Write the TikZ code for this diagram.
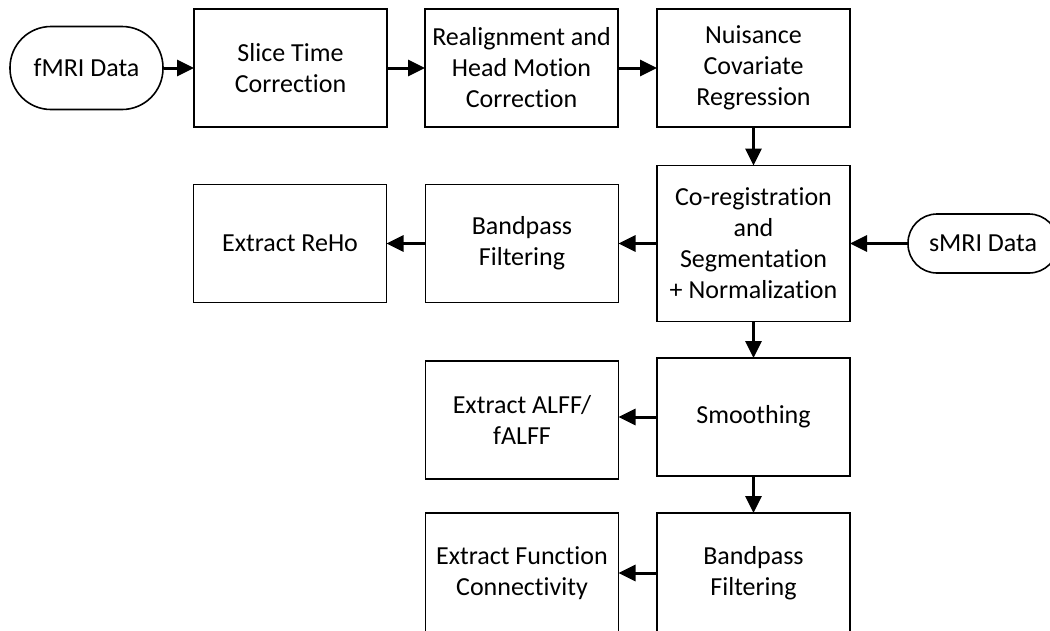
\documentclass[tikz,border=0pt]{standalone}
\usepackage{fontspec}
\setmainfont{Carlito}[Ligatures={NoCommon}]
\usetikzlibrary{arrows.meta}
\begin{document}
\begin{tikzpicture}[x=1pt,y=-1pt,
  procbox/.style={draw=black,line width=1.6pt,minimum width=193pt,minimum height=118pt,
    align=center,inner sep=2pt,font=\fontsize{26}{31}\selectfont,text=black},
  termbox/.style={draw=black,line width=1.6pt,align=center,inner sep=0pt,
    font=\fontsize{26}{31}\selectfont,text=black},
  flow/.style={line width=3pt,-{Triangle[length=17pt,width=16pt]},shorten >=-0.8pt}]
\clip (0,0) rectangle (1050,630);
\node[termbox,minimum width=153pt,minimum height=83pt,rounded corners=41pt] (fmri) at (86.5,68) {fMRI Data};
\node[procbox] (slice) at (290.5,68) {Slice Time\\Correction};
\node[procbox] (realign) at (521.5,68) {Realignment and\\Head Motion\\Correction};
\node[procbox] (nuis) at (753.5,68) {Nuisance\\Covariate\\Regression};
\node[procbox,minimum height=156pt] (coreg) at (753.5,243.5) {Co-registration\\and\\Segmentation\\+ Normalization};
\node[termbox,minimum width=150pt,minimum height=59pt,rounded corners=29pt] (smri) at (983,243.5) {sMRI Data};
\node[procbox] (bp1) at (522,243.5) {Bandpass\\Filtering};
\node[procbox] (reho) at (290,243.5) {Extract ReHo};
\node[procbox] (smooth) at (753.5,417) {Smoothing};
\node[procbox] (alff) at (522,420) {Extract ALFF/\\fALFF};
\node[procbox,minimum height=120pt] (bp2) at (753.5,573) {Bandpass\\Filtering};
\node[procbox,minimum height=120pt] (fc) at (522,573) {Extract Function\\Connectivity};
\draw[flow] (fmri) -- (slice);
\draw[flow] (slice) -- (realign);
\draw[flow] (realign) -- (nuis);
\draw[flow] (nuis) -- (coreg);
\draw[flow] (smri) -- (coreg);
\draw[flow] (coreg) -- (bp1);
\draw[flow] (bp1) -- (reho);
\draw[flow] (coreg) -- (smooth);
\draw[flow] (smooth.west) -- (smooth.west -| alff.east);
\draw[flow] (smooth) -- (bp2);
\draw[flow] (bp2) -- (fc);
\end{tikzpicture}
\end{document}
